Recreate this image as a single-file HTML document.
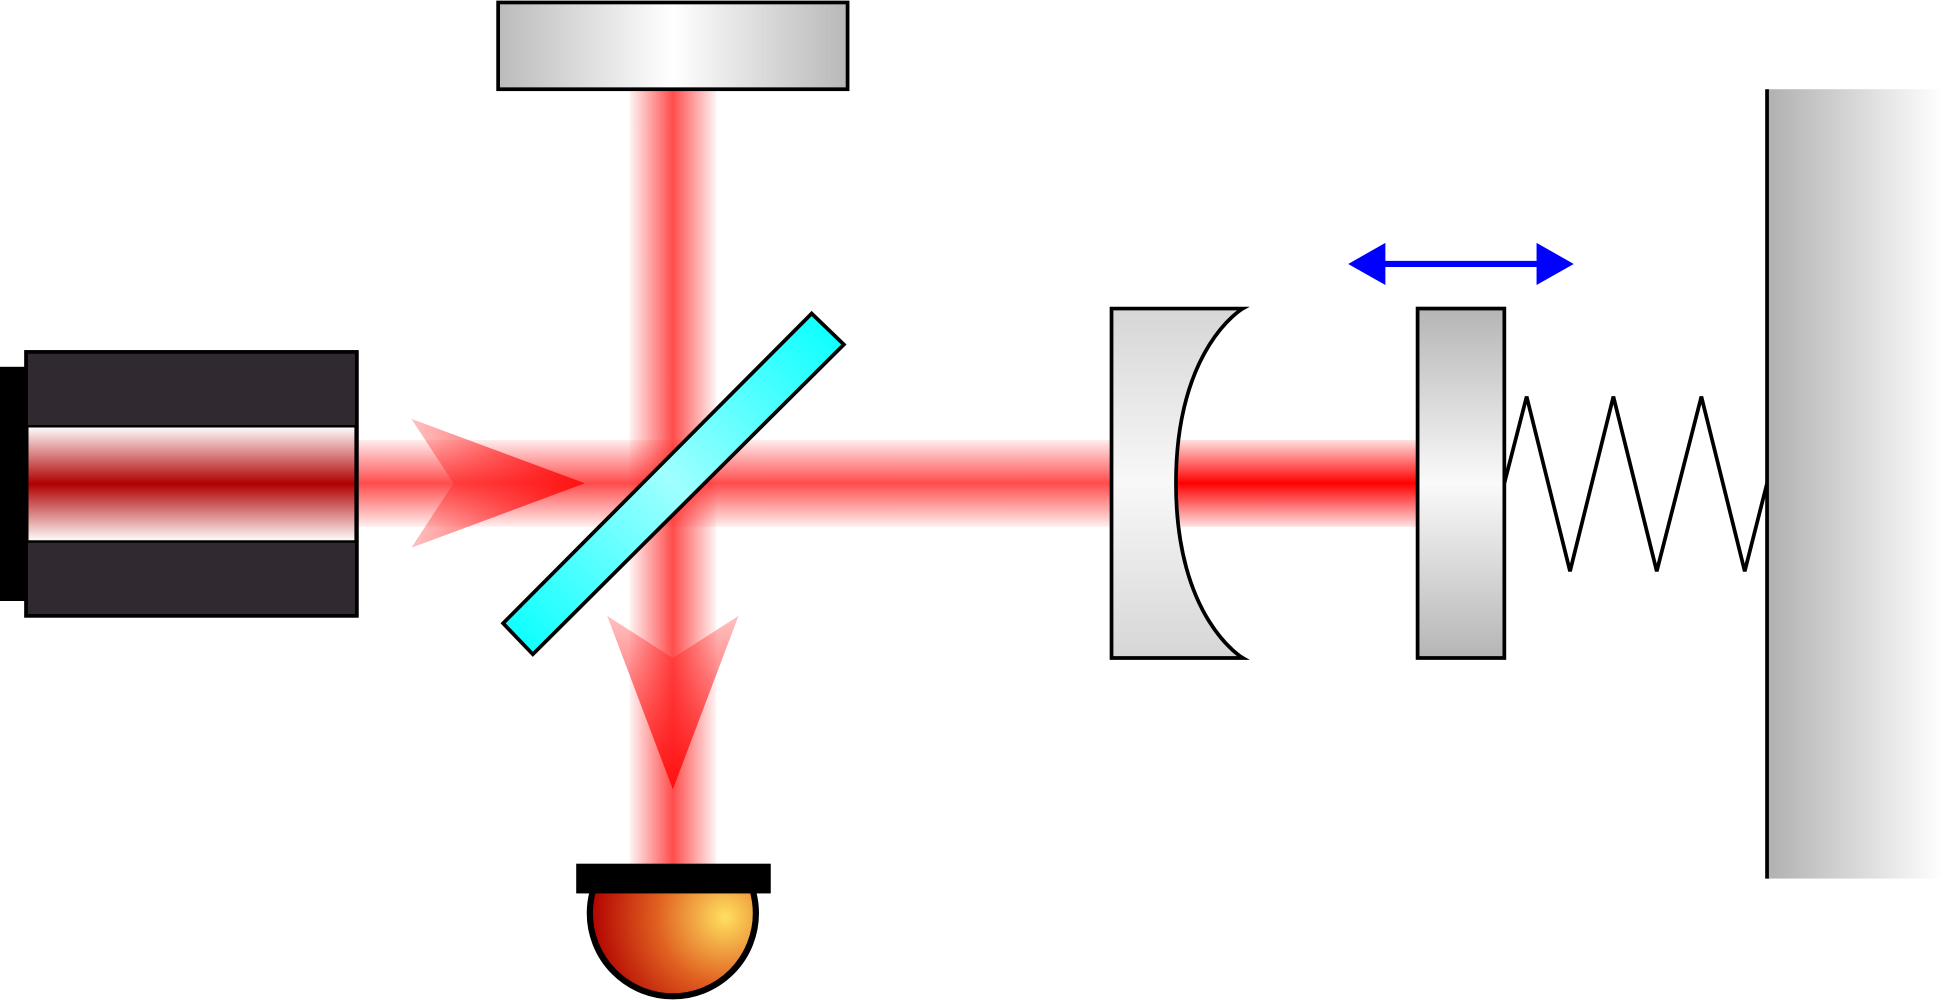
<!DOCTYPE html>
<html><head><meta charset="utf-8"><style>html,body{margin:0;padding:0;background:#fff;overflow:hidden}svg{display:block}</style></head>
<body>
<svg width="1943" height="1000" viewBox="0 0 1568 807" preserveAspectRatio="none">
<defs>
<linearGradient id="vbeam" x1="0" x2="1" y1="0" y2="0">
<stop offset="0" stop-color="#ff2020" stop-opacity="0.05"/><stop offset="0.5" stop-color="#ff2020" stop-opacity="0.8"/><stop offset="1" stop-color="#ff2020" stop-opacity="0.05"/></linearGradient>
<linearGradient id="hbeam" x1="0" x2="0" y1="0" y2="1">
<stop offset="0" stop-color="#ff2020" stop-opacity="0.08"/><stop offset="0.5" stop-color="#ff2020" stop-opacity="0.8"/><stop offset="1" stop-color="#ff2020" stop-opacity="0.08"/></linearGradient>
<linearGradient id="hbeam2" x1="0" x2="0" y1="0" y2="1">
<stop offset="0" stop-color="#ff0000" stop-opacity="0.12"/><stop offset="0.5" stop-color="#ff0000" stop-opacity="1"/><stop offset="1" stop-color="#ff0000" stop-opacity="0.12"/></linearGradient>
<linearGradient id="laserwin" x1="0" x2="0" y1="0" y2="1">
<stop offset="0" stop-color="#fff"/><stop offset="0.5" stop-color="#b00000"/><stop offset="1" stop-color="#fff"/></linearGradient>
<linearGradient id="topmirror" x1="0" x2="1" y1="0" y2="0">
<stop offset="0" stop-color="#bbb"/><stop offset="0.5" stop-color="#fff"/><stop offset="1" stop-color="#b8b8b8"/></linearGradient>
<linearGradient id="vgray" x1="0" x2="0" y1="0" y2="1">
<stop offset="0" stop-color="#b5b5b5"/><stop offset="0.5" stop-color="#fafafa"/><stop offset="1" stop-color="#b5b5b5"/></linearGradient>
<linearGradient id="lensg" x1="0" x2="0" y1="0" y2="1">
<stop offset="0" stop-color="#d6d6d6"/><stop offset="0.5" stop-color="#f8f8f8"/><stop offset="1" stop-color="#d6d6d6"/></linearGradient>
<linearGradient id="wallg" x1="0" x2="1" y1="0" y2="0">
<stop offset="0" stop-color="#b0b0b0"/><stop offset="1" stop-color="#fff"/></linearGradient>
<linearGradient id="arrR" x1="0" x2="1" y1="0" y2="0">
<stop offset="0" stop-color="#ff3030" stop-opacity="0.3"/><stop offset="1" stop-color="#ff1010" stop-opacity="1"/></linearGradient>
<linearGradient id="arrD" x1="0" x2="0" y1="0" y2="1">
<stop offset="0" stop-color="#ff3030" stop-opacity="0.3"/><stop offset="1" stop-color="#ff1010" stop-opacity="1"/></linearGradient>
<linearGradient id="bsg" x1="0" x2="1" y1="1" y2="0">
<stop offset="0" stop-color="#00ffff"/><stop offset="0.5" stop-color="#a0ffff"/><stop offset="1" stop-color="#00ffff"/></linearGradient>
<radialGradient id="detg" cx="585" cy="740" r="110" gradientUnits="userSpaceOnUse">
<stop offset="0" stop-color="#ffe060"/><stop offset="0.5" stop-color="#e06020"/><stop offset="1" stop-color="#b00000"/></radialGradient>
<clipPath id="detclip"><rect x="400" y="720" width="300" height="300"/></clipPath>
</defs>

<rect x="1426" y="72" width="142" height="637" fill="url(#wallg)"/>
<line x1="1426" y1="72" x2="1426" y2="709" stroke="#000" stroke-width="3"/>

<rect x="508" y="72" width="70" height="640" fill="url(#vbeam)"/>
<rect x="288" y="355" width="660" height="70" fill="url(#hbeam)"/>
<rect x="948" y="355" width="196" height="70" fill="url(#hbeam2)"/>

<rect x="402" y="2" width="282" height="70" fill="url(#topmirror)" stroke="#000" stroke-width="3"/>

<rect x="0" y="296" width="22" height="189" fill="#000"/>
<rect x="21" y="284" width="267" height="213" fill="#302a30" stroke="#000" stroke-width="3"/>
<rect x="22" y="344" width="265" height="93" fill="url(#laserwin)" stroke="#000" stroke-width="2"/>

<polygon points="332,338 472,390 332,442 366,390" fill="url(#arrR)"/>
<polygon points="490,497 543,531 596,497 543,637" fill="url(#arrD)"/>

<polygon points="406,503 655,253 681,278 430,528" fill="url(#bsg)" stroke="#000" stroke-width="3"/>

<path d="M897,249 L1003,249 C1003,249 949,280 949,390 C949,500 1003,531 1003,531 L897,531 Z" fill="url(#lensg)" stroke="#000" stroke-width="3"/>

<rect x="1144" y="249" width="70" height="282" fill="url(#vgray)" stroke="#000" stroke-width="3"/>

<g>
<line x1="1115" y1="213" x2="1243" y2="213" stroke="#0000ff" stroke-width="5"/>
<polygon points="1088,213 1118,196 1118,230" fill="#0000ff"/>
<polygon points="1270,213 1240,196 1240,230" fill="#0000ff"/>
</g>

<polyline points="1214,390 1232,320 1267,461 1302,320 1337,461 1373,320 1408,461 1426,390" fill="none" stroke="#000" stroke-width="3"/>

<g>
<circle cx="543" cy="737" r="67" fill="url(#detg)" stroke="#000" stroke-width="5" clip-path="url(#detclip)"/>
<rect x="465" y="697" width="157" height="24" fill="#000"/>
</g>
</svg>
</body></html>
